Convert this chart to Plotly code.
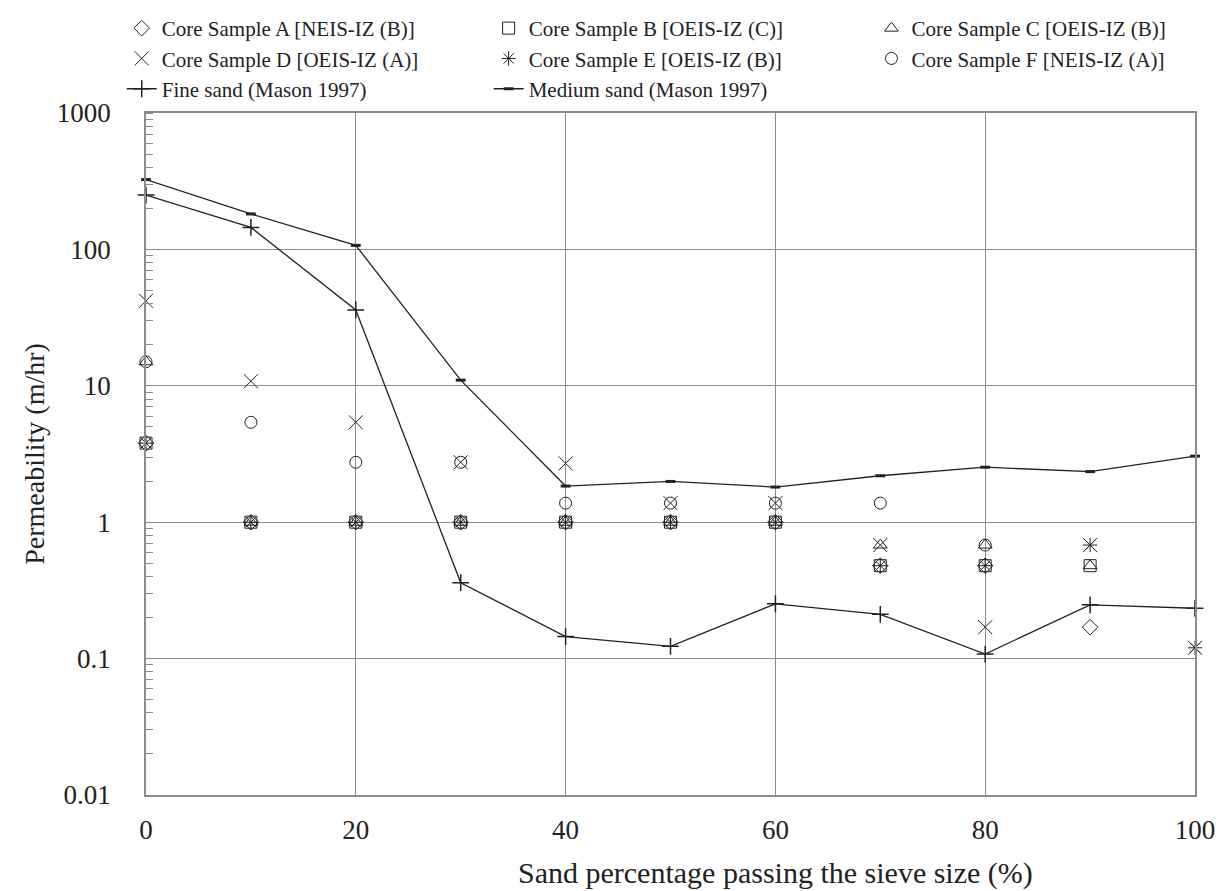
import plotly.graph_objects as go

x_vals = [0, 10, 20, 30, 40, 50, 60, 70, 80, 90, 100]

sample_a = [3.8, 1, 1, 1, 1, 1, 1, 0.48, 0.48, 0.17, None]
sample_b = [3.8, 1, 1, 1, 1, 1, 1, 0.48, 0.48, 0.48, None]
sample_c = [15, 1, 1, 1, 1, 1, 1, 0.68, 0.68, 0.48, None]
sample_d = [42, 10.8, 5.4, 2.75, 2.7, 1.38, 1.38, 0.68, 0.17, 0.68, 0.12]
sample_e = [3.8, 1, 1, 1, 1, 1, 1, 0.48, 0.48, 0.68, 0.12]
sample_f = [15, 5.4, 2.75, 2.75, 1.38, 1.38, 1.38, 1.38, 0.68, None, None]

fine_sand = [250, 145, 36, 0.36, 0.145, 0.123, 0.252, 0.211, 0.108, 0.248, 0.234]
medium_sand = [325, 182, 107, 11, 1.84, 1.99, 1.81, 2.19, 2.53, 2.35, 3.05]

y_tickvals = [0.01, 0.1, 1, 10, 100, 1000]
y_ticktext = ["0.01", "0.1", "1", "10", "100", "1000"]
x_tickvals = [0, 20, 40, 60, 80, 100]

FONT = "Liberation Serif, Times New Roman, serif"
INK = "#222222"
GRID = "#8c8c8c"

samples = [
    ("Core Sample A [NEIS-IZ (B)]", sample_a, "diamond-open", 12, "legend"),
    ("Core Sample B [OEIS-IZ (C)]", sample_b, "square-open", 12, "legend2"),
    ("Core Sample C [OEIS-IZ (B)]", sample_c, "triangle-up-open", 12, "legend3"),
    ("Core Sample D [OEIS-IZ (A)]", sample_d, "x-thin-open", 14, "legend"),
    ("Core Sample E [OEIS-IZ (B)]", sample_e, "asterisk-open", 12, "legend2"),
    ("Core Sample F [NEIS-IZ (A)]", sample_f, "circle-open", 12, "legend3"),
]

fig = go.Figure()
for name, vals, sym, sz, lg in samples:
    fig.add_trace(go.Scatter(
        x=x_vals, y=vals, mode="markers", name=name, legend=lg, cliponaxis=False,
        marker=dict(symbol=sym, size=sz, color=INK, line=dict(width=1, color=INK)),
    ))

fig.add_trace(go.Scatter(
    x=x_vals, y=fine_sand, mode="lines+markers", name="Fine sand (Mason 1997)",
    legend="legend", cliponaxis=False,
    line=dict(color=INK, width=1.3),
    marker=dict(symbol="cross-thin-open", size=12, color=INK, line=dict(width=1.5, color=INK)),
))
fig.add_trace(go.Scatter(
    x=x_vals, y=medium_sand, mode="lines+markers", name="Medium sand (Mason 1997)",
    legend="legend2", cliponaxis=False,
    line=dict(color=INK, width=1.3),
    marker=dict(symbol="line-ew-open", size=7, color=INK, line=dict(width=3, color=INK)),
))


def legend_at(xpos):
    return dict(
        orientation="v", x=xpos, xanchor="left", y=1.0, yanchor="top",
        xref="container", yref="container",
        font=dict(family=FONT, size=21, color=INK),
        itemsizing="trace", tracegroupgap=0,
        bgcolor="rgba(0,0,0,0)", borderwidth=0,
    )


fig.update_layout(
    width=1223, height=891,
    paper_bgcolor="white", plot_bgcolor="white",
    margin=dict(l=138, r=36, t=105, b=104, autoexpand=False),
    font=dict(family=FONT, color=INK),
    showlegend=True,
    legend=legend_at(0.093),
    legend2=legend_at(0.393),
    legend3=legend_at(0.706),
    xaxis=dict(
        range=[0, 100], tickvals=x_tickvals, showgrid=True, gridcolor=GRID, gridwidth=1,
        showline=True, linecolor=GRID, linewidth=1.5, mirror=True, zeroline=False,
        ticks="", tickfont=dict(family=FONT, size=27, color=INK), ticklabelstandoff=10,
    ),
    yaxis=dict(
        type="log", range=[-2, 3], tickvals=y_tickvals, ticktext=y_ticktext,
        showgrid=True, gridcolor=GRID, gridwidth=1,
        showline=True, linecolor=GRID, linewidth=1.5, mirror=True, zeroline=False,
        ticks="", tickfont=dict(family=FONT, size=27, color=INK), ticklabelstandoff=28,
        minor=dict(ticks="inside", ticklen=7, tickcolor=GRID, dtick="D1", showgrid=False),
    ),
    annotations=[
        dict(
            text="Sand percentage passing the sieve size (%)",
            xref="paper", yref="paper", x=0.60, y=-0.114, xanchor="center", yanchor="middle",
            showarrow=False, font=dict(family=FONT, size=30, color=INK),
        ),
        dict(
            text="Permeability (m/hr)", textangle=-90,
            xref="paper", yref="paper", x=-0.107, y=0.5, xanchor="center", yanchor="middle",
            showarrow=False, font=dict(family=FONT, size=28, color=INK),
        ),
    ],
)

fig.write_html("out.html")
